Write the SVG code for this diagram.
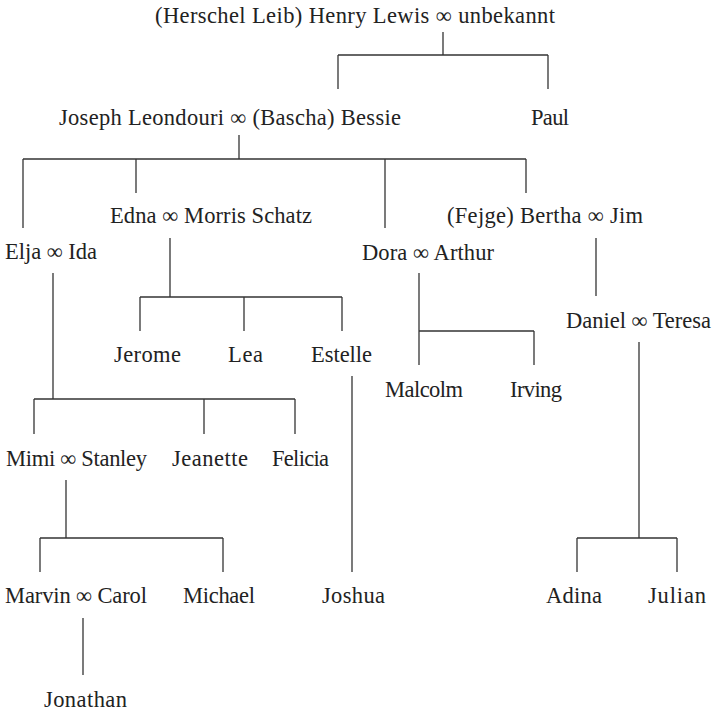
<svg xmlns="http://www.w3.org/2000/svg" width="714" height="713" viewBox="0 0 714 713">
<style>
text{font-family:"Liberation Serif","Times New Roman",serif;font-size:22.5px;fill:#222;}
.c line{stroke:#333;stroke-width:1.3;}
</style>
<rect width="714" height="713" fill="#fff"/>
<g class="c" id="connectors">
<line x1="443" y1="32" x2="443" y2="55"/>
<line x1="338" y1="55" x2="548" y2="55"/>
<line x1="338" y1="55" x2="338" y2="89"/>
<line x1="548" y1="55" x2="548" y2="89"/>
<line x1="239" y1="135" x2="239" y2="159"/>
<line x1="23" y1="159" x2="526" y2="159"/>
<line x1="23" y1="159" x2="23" y2="228"/>
<line x1="136" y1="159" x2="136" y2="193"/>
<line x1="385" y1="159" x2="385" y2="228"/>
<line x1="526" y1="159" x2="526" y2="193"/>
<line x1="170" y1="238" x2="170" y2="297"/>
<line x1="140" y1="297" x2="342" y2="297"/>
<line x1="140" y1="297" x2="140" y2="331"/>
<line x1="244" y1="297" x2="244" y2="331"/>
<line x1="342" y1="297" x2="342" y2="331"/>
<line x1="53" y1="273" x2="53" y2="399"/>
<line x1="34" y1="399" x2="295" y2="399"/>
<line x1="34" y1="399" x2="34" y2="434"/>
<line x1="204" y1="399" x2="204" y2="434"/>
<line x1="295" y1="399" x2="295" y2="434"/>
<line x1="419" y1="273" x2="419" y2="365"/>
<line x1="419" y1="331" x2="534" y2="331"/>
<line x1="534" y1="331" x2="534" y2="365"/>
<line x1="596" y1="238" x2="596" y2="296"/>
<line x1="639" y1="342" x2="639" y2="538"/>
<line x1="577" y1="538" x2="677" y2="538"/>
<line x1="577" y1="538" x2="577" y2="572"/>
<line x1="677" y1="538" x2="677" y2="572"/>
<line x1="352" y1="376" x2="352" y2="572"/>
<line x1="66" y1="480" x2="66" y2="538"/>
<line x1="40" y1="538" x2="223" y2="538"/>
<line x1="40" y1="538" x2="40" y2="572"/>
<line x1="223" y1="538" x2="223" y2="572"/>
<line x1="83" y1="618" x2="83" y2="675"/>
</g>
<g id="henry"><text x="155" y="23" textLength="400">(Herschel Leib) Henry Lewis ∞ unbekannt</text></g>
<g id="joseph"><text x="59" y="125" textLength="342">Joseph Leondouri ∞ (Bascha) Bessie</text></g>
<g id="paul"><text x="531" y="125" textLength="38">Paul</text></g>
<g id="edna"><text x="110" y="223" textLength="202">Edna ∞ Morris Schatz</text></g>
<g id="bertha"><text x="447" y="223" textLength="196">(Fejge) Bertha ∞ Jim</text></g>
<g id="elja"><text x="5" y="259" textLength="92">Elja ∞ Ida</text></g>
<g id="dora"><text x="362" y="260" textLength="132">Dora ∞ Arthur</text></g>
<g id="daniel"><text x="566" y="328" textLength="145">Daniel ∞ Teresa</text></g>
<g id="jerome"><text x="114" y="362" textLength="67">Jerome</text></g>
<g id="lea"><text x="228" y="362" textLength="35">Lea</text></g>
<g id="estelle"><text x="311" y="362" textLength="61">Estelle</text></g>
<g id="malcolm"><text x="385" y="397" textLength="78">Malcolm</text></g>
<g id="irving"><text x="510" y="397" textLength="52">Irving</text></g>
<g id="mimi"><text x="6" y="466" textLength="141">Mimi ∞ Stanley</text></g>
<g id="jeanette"><text x="172" y="466" textLength="76">Jeanette</text></g>
<g id="felicia"><text x="272" y="466" textLength="57">Felicia</text></g>
<g id="marvin"><text x="5" y="603" textLength="142">Marvin ∞ Carol</text></g>
<g id="michael"><text x="183" y="603" textLength="72">Michael</text></g>
<g id="joshua"><text x="322" y="603" textLength="63">Joshua</text></g>
<g id="adina"><text x="546" y="603" textLength="56">Adina</text></g>
<g id="julian"><text x="648" y="603" textLength="58">Julian</text></g>
<g id="jonathan"><text x="44" y="707" textLength="83">Jonathan</text></g>
</svg>
